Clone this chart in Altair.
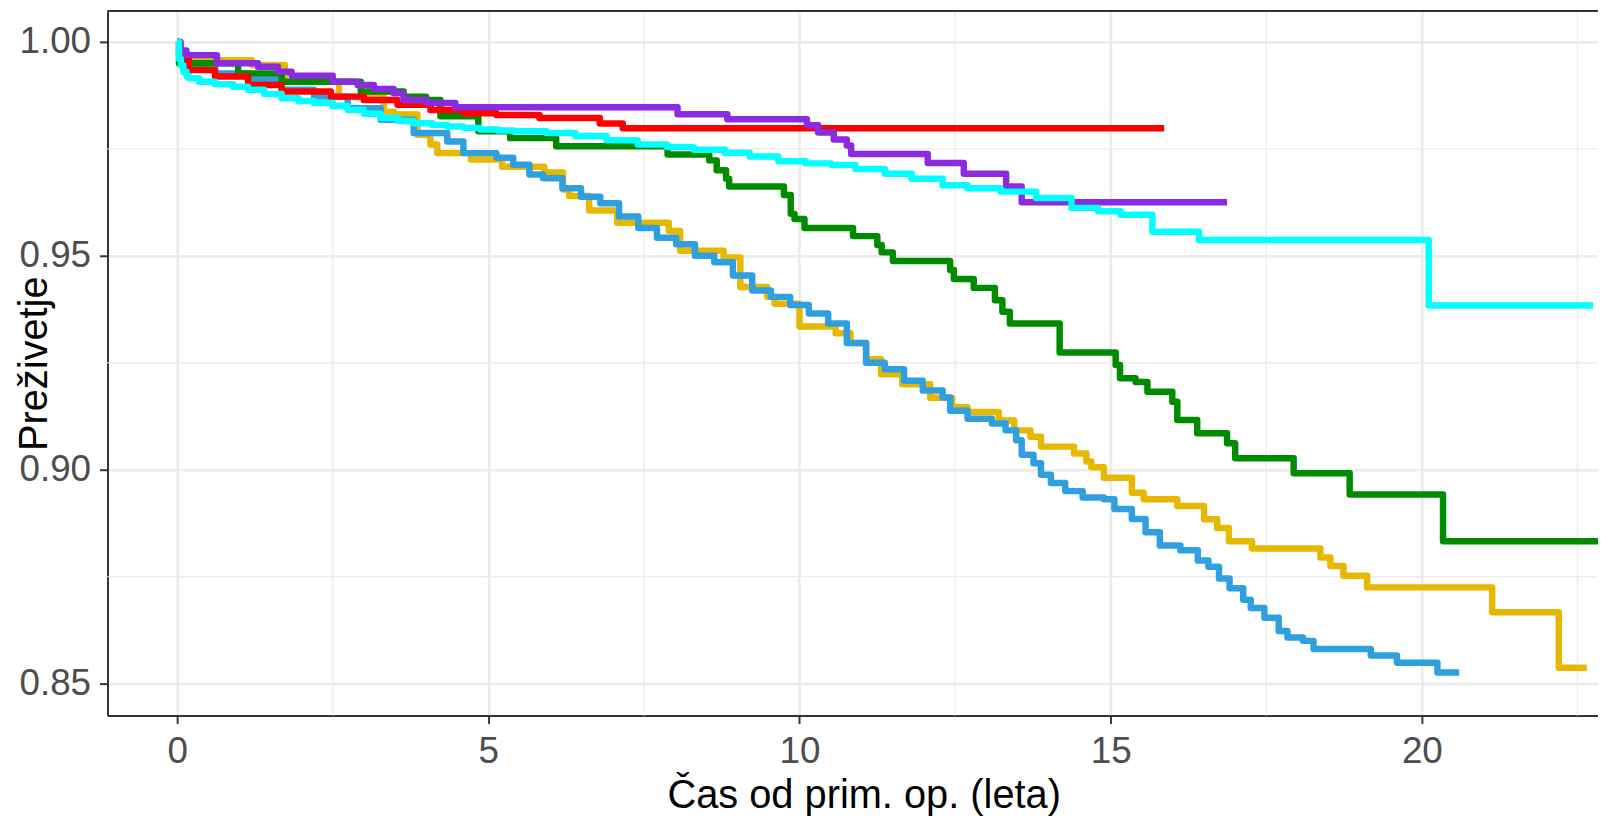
import altair as alt
import pandas as pd

# ---- data (time in years, survival) ----
yellow_t = [0, 0.05, 0.1, 1.2, 1.73, 2.6, 3.32, 3.48, 3.86, 4.07, 4.18, 4.72, 5.22, 5.9, 6.2, 6.3, 6.62, 7.07, 7.9, 8.08,
            8.78, 9.05, 9.48, 9.6, 10.0, 10.58, 10.82, 11.07, 11.31, 11.65, 12.1, 12.45, 12.7, 13.2, 13.45, 13.71,
            13.88, 14.41, 14.61, 14.69, 14.89, 15.34, 15.53, 16.07, 16.5, 16.71, 16.9, 17.27, 18.37, 18.53, 18.74,
            19.12, 21.13, 22.2, 22.65]
yellow_s = [1.0, 0.996, 0.9957, 0.9946, 0.9907, 0.9872, 0.9837, 0.983, 0.9783, 0.976, 0.974, 0.9725, 0.9708, 0.9695,
            0.9655, 0.964, 0.9606, 0.9577, 0.9558, 0.9512, 0.9496, 0.9427, 0.9404, 0.9388, 0.9335, 0.9319, 0.9296,
            0.9258, 0.9223, 0.92, 0.9168, 0.9146, 0.9135, 0.9115, 0.9092, 0.9077, 0.9054, 0.9038, 0.9019, 0.9006,
            0.8981, 0.8946, 0.8931, 0.8915, 0.8884, 0.8864, 0.8833, 0.8816, 0.8795, 0.8775, 0.8752, 0.8725, 0.8667,
            0.8537, 0.8537]

blue_t = [0, 0.05, 0.16, 0.61, 1.14, 1.68, 2.2, 2.74, 3.27, 3.8, 4.34, 4.6, 5.13, 5.4, 5.66, 5.88, 6.19, 6.49, 6.8,
          7.1, 7.41, 7.71, 8.02, 8.32, 8.63, 8.93, 9.24, 9.54, 9.85, 10.15, 10.46, 10.76, 11.07, 11.37, 11.68, 11.98,
          12.3, 12.42, 12.7, 13.09, 13.31, 13.48, 13.57, 13.76, 13.88, 14.04, 14.27, 14.55, 14.89, 15.06, 15.34,
          15.56, 15.79, 16.12, 16.4, 16.57, 16.74, 16.91, 17.13, 17.25, 17.47, 17.7, 17.84, 18.09, 18.26, 19.18,
          19.6, 20.25, 20.6]
blue_s = [1.0, 0.996, 0.9942, 0.9926, 0.9911, 0.9888, 0.9872, 0.9845, 0.9818, 0.9787, 0.9767, 0.974, 0.9729, 0.9713,
          0.969, 0.9681, 0.9658, 0.9638, 0.9623, 0.9592, 0.9565, 0.9542, 0.9527, 0.95, 0.9485, 0.9454, 0.9419,
          0.9404, 0.9385, 0.9365, 0.9342, 0.9296, 0.925, 0.9235, 0.9208, 0.9185, 0.9169, 0.9138, 0.9119, 0.9108,
          0.9092, 0.9069, 0.9035, 0.9015, 0.8988, 0.8969, 0.895, 0.8935, 0.8931, 0.8908, 0.8885, 0.8854, 0.8823,
          0.8812, 0.8788, 0.8773, 0.8746, 0.8723, 0.8696, 0.8677, 0.8654, 0.8623, 0.8608, 0.86, 0.8581, 0.8566,
          0.8549, 0.8526, 0.8526]

green_t = [0, 0.03, 0.98, 1.68, 2.95, 3.64, 4.0, 4.23, 4.84, 5.35, 6.09, 7.88, 8.55, 8.67, 8.82, 8.87, 9.75, 9.86,
           9.92, 10.08, 10.86, 11.25, 11.32, 11.5, 12.42, 12.48, 12.8, 13.14, 13.26, 13.38, 14.18, 15.08, 15.15,
           15.4, 15.59, 15.99, 16.07, 16.39, 16.87, 17.0, 17.94, 18.84, 20.34, 23.0]
green_s = [1.0, 0.995, 0.9926, 0.9907, 0.9884, 0.9872, 0.9864, 0.9826, 0.9791, 0.9775, 0.9756, 0.9737, 0.9723,
           0.970, 0.968, 0.9662, 0.9642, 0.9598, 0.9586, 0.9565, 0.9546, 0.9525, 0.9508, 0.9488, 0.9467, 0.9446,
           0.9425, 0.9396, 0.9369, 0.9342, 0.9274, 0.9245, 0.9214, 0.9205, 0.9182, 0.9159, 0.9116, 0.9085, 0.9062,
           0.9027, 0.8992, 0.8942, 0.8833, 0.8833]

red_t = [0, 0.05, 0.19, 0.61, 1.14, 1.68, 2.47, 3.0, 3.54, 4.07, 4.6, 5.13, 5.82, 6.79, 7.16, 15.86]
red_s = [1.0, 0.996, 0.9934, 0.9919, 0.9899, 0.9884, 0.9872, 0.9864, 0.9853, 0.9841, 0.9833, 0.9829, 0.9822,
         0.9809, 0.9798, 0.9798]

purple_t = [0, 0.05, 0.15, 0.64, 1.3, 1.62, 1.84, 2.5, 2.9, 3.16, 3.48, 3.64, 4.02, 4.47, 8.04, 8.84, 10.12, 10.3,
            10.55, 10.76, 10.83, 12.06, 12.64, 13.32, 13.57, 16.87]
purple_s = [1.0, 0.998, 0.9969, 0.995, 0.9942, 0.993, 0.9921, 0.9907, 0.9899, 0.989, 0.988, 0.9864, 0.9857, 0.9847,
            0.9831, 0.9819, 0.9805, 0.9788, 0.9772, 0.9758, 0.9738, 0.9717, 0.9692, 0.9662, 0.9625, 0.9625]

cyan_t = [0, 0.03, 0.06, 0.1, 0.15, 0.19, 0.35, 0.61, 0.9, 1.14, 1.4, 1.68, 1.95, 2.2, 2.5, 2.74, 3.0, 3.27, 3.55,
          3.8, 4.1, 4.34, 4.6, 4.87, 5.15, 5.4, 5.93, 6.4, 6.9, 7.4, 7.87, 8.3, 8.8, 9.2, 9.66, 10.1, 10.51, 10.9,
          11.37, 11.8, 12.3, 12.7, 13.23, 13.8, 14.37, 14.8, 15.16, 15.67, 16.42, 20.11, 22.75]
cyan_s = [1.0, 0.996, 0.9945, 0.993, 0.992, 0.9915, 0.9907, 0.9901, 0.9895, 0.9888, 0.9878, 0.9868, 0.9862, 0.9857,
          0.985, 0.9841, 0.9832, 0.9822, 0.9815, 0.981, 0.9806, 0.9802, 0.9799, 0.9795, 0.9793, 0.9791, 0.9787,
          0.978, 0.977, 0.976, 0.9754, 0.9748, 0.9741, 0.9732, 0.9721, 0.9716, 0.9712, 0.9703, 0.9692, 0.968,
          0.9665, 0.9658, 0.965, 0.9635, 0.9612, 0.9604, 0.9596, 0.9556, 0.9537, 0.9384, 0.9384]

series = [("yellow", "#E7B800", yellow_t, yellow_s),
          ("blue", "#2E9FDF", blue_t, blue_s),
          ("green", "#008B00", green_t, green_s),
          ("red", "#FF0000", red_t, red_s),
          ("purple", "#8A2BE2", purple_t, purple_s),
          ("cyan", "#00FFFF", cyan_t, cyan_s)]

x_ticks = [0, 5, 10, 15, 20]
y_ticks = [0.85, 0.90, 0.95, 1.00]
x_minor = [2.5, 7.5, 12.5, 17.5, 22.5]
y_minor = [0.875, 0.925, 0.975]

W, H = 1498, 708
XDOM = [-1.119, 22.83]
YDOM = [0.84256, 1.00721]
FONT = "Liberation Sans"
GRID = "#EBEBEB"

xs = alt.Scale(domain=XDOM, nice=False, zero=False)
ys = alt.Scale(domain=YDOM, nice=False, zero=False)

x_axis = alt.Axis(values=x_ticks, format="d", grid=True, gridColor=GRID, gridWidth=2.6,
                  domainColor="#333333", domainWidth=2, tickColor="#333333", tickWidth=2, tickSize=8,
                  labelFont=FONT, labelFontSize=37, labelColor="#4D4D4D", labelPadding=10,
                  title="Čas od prim. op. (leta)", titleFont=FONT, titleFontSize=40, titleFontWeight="normal",
                  titleColor="#000000", titleX=760, titleY=92, titleBaseline="alphabetic", titleAlign="center")
y_axis = alt.Axis(values=y_ticks, format=".2f", grid=True, gridColor=GRID, gridWidth=2.6,
                  domainColor="#333333", domainWidth=2, tickColor="#333333", tickWidth=2, tickSize=8,
                  labelFont=FONT, labelFontSize=37, labelColor="#4D4D4D", labelPadding=9,
                  title="Preživetje", titleFont=FONT, titleFontSize=40, titleFontWeight="normal",
                  titleColor="#000000", titleX=-61, titleY=354, titleAngle=270, titleBaseline="alphabetic",
                  titleAlign="center")

layers = []
vminor = alt.Chart(pd.DataFrame({"t": x_minor})).mark_rule(color=GRID, strokeWidth=1.3).encode(
    x=alt.X("t:Q", scale=xs, axis=x_axis))
hminor = alt.Chart(pd.DataFrame({"s": y_minor})).mark_rule(color=GRID, strokeWidth=1.3).encode(
    y=alt.Y("s:Q", scale=ys, axis=y_axis))
layers += [vminor, hminor]

for name, col, ts, ss in series:
    df = pd.DataFrame({"t": ts, "s": ss, "g": name})
    ch = alt.Chart(df).mark_line(interpolate="step-after", color=col, strokeWidth=6.5,
                                 strokeJoin="round", strokeCap="butt", clip=True).encode(
        x=alt.X("t:Q", scale=xs, axis=x_axis),
        y=alt.Y("s:Q", scale=ys, axis=y_axis))
    layers.append(ch)

top_border = alt.Chart(pd.DataFrame({"a": [0]})).mark_rule(color="#333333", strokeWidth=2).encode(
    x=alt.value(0), x2=alt.value(W), y=alt.value(0))
layers.append(top_border)

chart = alt.layer(*layers).properties(
    width=W, height=H,
    autosize=alt.AutoSizeParams(type="none"),
    padding={"left": 100, "top": 1, "right": 0, "bottom": 102},
    background="white",
).configure_view(stroke=None)

chart.save("out.html", embed_options={"renderer": "svg", "actions": False})
